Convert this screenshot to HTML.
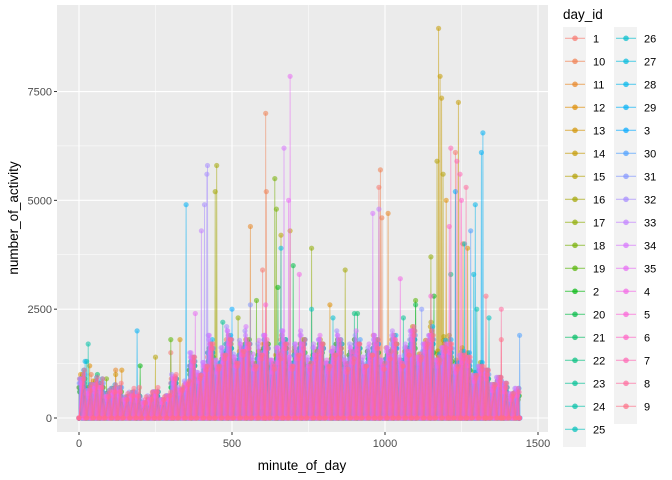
<!DOCTYPE html>
<html><head><meta charset="utf-8">
<style>
body{margin:0;background:#fff;font-family:"Liberation Sans",Arial,sans-serif;}
svg{display:block}
</style></head>
<body>
<svg id="chart" width="672" height="480" viewBox="0 0 672 480" xmlns="http://www.w3.org/2000/svg">
<rect x="57" y="5" width="491" height="427" fill="#EBEBEB"/>
<g id="grid"></g>
<g id="marks"></g>
<g id="axes"></g>
<text x="302" y="470" font-size="13.5" text-anchor="middle" fill="#000">minute_of_day</text>
<text transform="translate(18,218) rotate(-90)" font-size="13.5" text-anchor="middle" fill="#000">number_of_activity</text>
<g id="legend">
<text x="563" y="19" font-size="13.5" fill="#000">day_id</text>
</g>
</svg>
<script>
const days = ["1","10","11","12","13","14","15","16","17","18","19","2","20","21","22","23","24","25","26","27","28","29","3","30","31","32","33","34","35","4","5","6","7","8","9"];
// hourly activity peak levels per day (hour 0..23)
const hourly = [
[700,500,400,300,500,800,1100,1400,1500,1600,1700,1800,1600,1500,1700,1800,1600,1500,1400,1300,1200,1000,800,600],
[900,600,500,400,600,900,1200,1500,1800,1700,1600,1900,1700,1600,1500,1700,1900,1800,1600,1400,1300,1100,900,700],
[600,700,500,300,400,800,1000,1300,1500,1400,1600,1700,1500,1400,1600,1700,1500,1400,1300,1500,1400,1100,800,500],
[1000,800,600,400,500,900,1200,1600,1700,1800,1700,1600,1500,1700,1800,1600,1700,1600,1800,1700,1500,1200,1000,700],
[800,600,500,400,500,700,1100,1400,1600,1500,1700,1600,1400,1500,1600,1500,1400,1600,1700,1900,1600,1300,900,600],
[900,700,600,500,600,800,1300,1700,1900,1800,1700,1500,1600,1800,1700,1600,1500,1700,2000,2100,1800,1400,1000,700],
[700,600,500,400,500,900,1400,1700,1800,1600,1500,1700,1800,1600,1500,1700,1800,1900,2100,2200,1900,1500,1100,700],
[1000,800,700,500,500,800,1200,1500,1600,1700,1600,1500,1400,1600,1700,1500,1600,1700,1900,2000,1700,1300,900,600],
[500,400,300,300,400,700,1100,1400,1700,1600,1500,1600,1700,1500,1400,1600,1500,1600,1800,1900,1600,1200,800,500],
[700,600,500,400,500,800,1200,1600,1800,1700,1600,1800,1700,1500,1600,1700,1600,1500,1700,1800,1500,1200,900,600],
[800,700,500,400,500,800,1300,1500,1700,1800,1700,1600,1800,1700,1600,1500,1700,1600,1800,1700,1400,1100,800,600],
[900,700,600,500,600,900,1200,1400,1600,1500,1700,1600,1500,1600,1700,1600,1500,1700,1600,1500,1300,1100,900,700],
[700,500,400,400,500,700,1100,1500,1700,1600,1500,1700,1600,1500,1700,1800,1600,1500,1600,1700,1500,1200,900,600],
[600,500,400,300,400,700,1000,1300,1500,1600,1500,1400,1600,1500,1400,1600,1500,1400,1600,1700,1400,1100,800,500],
[800,700,600,500,500,800,1200,1500,1600,1700,1600,1500,1700,1600,1500,1700,1600,1500,1700,1600,1400,1200,900,600],
[900,800,600,500,600,800,1300,1600,1700,1600,1800,1700,1600,1700,1800,1600,1700,1800,1700,1600,1500,1300,1000,700],
[700,600,500,400,500,700,1100,1400,1600,1500,1600,1700,1500,1600,1500,1700,1600,1500,1700,1800,1500,1200,900,600],
[800,700,500,400,500,800,1200,1500,1700,1600,1500,1600,1700,1500,1600,1500,1700,1600,1500,1700,1500,1200,900,600],
[700,600,500,400,500,800,1200,1400,1600,1700,1600,1500,1600,1700,1600,1500,1600,1700,1600,1500,1400,1100,800,600],
[900,700,600,500,500,800,1300,1500,1700,1600,1700,1600,1500,1600,1700,1600,1500,1600,1700,1600,1500,1200,900,700],
[800,600,500,400,500,700,1100,1400,1500,1600,1500,1600,1700,1500,1600,1700,1500,1600,1800,1700,1400,1100,800,600],
[1100,900,700,500,600,900,1400,1800,1900,1700,1600,1800,1700,1600,1800,1700,1800,1900,2000,2100,1800,1500,1100,800],
[700,600,500,400,500,800,1200,1500,1600,1700,1600,1500,1700,1600,1500,1600,1700,1600,1800,1700,1500,1200,900,600],
[1000,800,700,500,600,900,1300,1600,1800,1700,1600,1700,1800,1600,1700,1800,1700,1600,1900,1800,1600,1300,1000,700],
[800,700,600,400,500,800,1200,1500,1700,1600,1500,1700,1600,1500,1600,1700,1600,1700,1800,1700,1500,1200,900,600],
[900,800,700,600,600,1000,1500,1900,2100,2000,1900,2000,1900,1800,2000,1900,1800,1900,2000,1900,1700,1400,1100,800],
[800,700,600,500,600,900,1400,1800,2000,1900,1800,1900,2000,1800,1900,1800,1900,2000,1900,1800,1600,1300,1000,700],
[900,700,600,500,600,950,1500,1900,2000,2100,1900,2000,1900,1800,1900,2000,1900,1800,2000,1900,1700,1400,1100,800],
[800,700,600,500,500,900,1400,1700,1900,1800,1900,1800,1700,1900,1800,1700,1800,1900,2000,1900,1600,1300,1000,700],
[700,600,500,400,500,800,1200,1500,1700,1600,1500,1600,1700,1600,1500,1600,1700,1600,1800,1700,1500,1200,900,600],
[800,700,600,500,500,850,1300,1600,1700,1600,1700,1600,1500,1700,1600,1500,1600,1700,1900,1800,1500,1200,900,600],
[900,700,600,500,600,900,1300,1600,1800,1700,1600,1700,1600,1500,1700,1600,1700,1800,2000,1900,1600,1300,1000,700],
[1000,800,700,600,600,950,1400,1700,1800,1700,1800,1700,1600,1700,1800,1700,1600,1800,2100,2000,1700,1400,1100,800],
[900,700,600,500,600,900,1300,1600,1700,1600,1700,1600,1700,1600,1500,1700,1600,1700,1900,1800,1600,1300,1000,700],
[1100,900,800,700,700,1000,1400,1700,1800,1700,1600,1700,1800,1700,1600,1700,1800,1700,2000,1900,1700,1400,1100,800]
];
// notable spikes per day: [minute, value]
const spikes = {
"1":[[980,5300],[1230,6100],[600,3400],[300,1500]],
"10":[[610,7000],[612,5200],[985,5700],[990,4600],[40,1000]],
"11":[[1010,4700],[560,4400],[1255,4000],[120,1100]],
"12":[[35,1200],[140,1100],[1200,5000],[820,2600]],
"13":[[120,1000],[1270,3900],[330,1800]],
"14":[[1175,8950],[1180,7850],[1185,7350],[1240,7250],[690,4300]],
"15":[[1170,5900],[1190,5600],[660,4200],[250,1400]],
"16":[[450,5800],[445,5200],[870,3400]],
"17":[[1150,3700],[760,3900],[520,2300]],
"18":[[640,5500],[645,4800],[90,900]],
"19":[[580,2700],[300,1800],[1100,2700]],
"2":[[1160,2800],[650,3000],[200,1200]],
"20":[[700,3500],[1100,2600]],
"21":[[910,2400],[60,1000]],
"22":[[1215,3300],[900,2400]],
"23":[[470,2200],[1060,2300]],
"24":[[30,1700],[1300,2500],[25,1300]],
"25":[[760,2500],[1340,2300]],
"26":[[1260,4000],[830,2300]],
"27":[[660,3900],[1290,3300]],
"28":[[1295,4900],[20,1300]],
"29":[[1320,6550],[1315,6100],[350,4900],[190,2000]],
"3":[[1230,5200],[500,2500]],
"30":[[1280,4300],[1440,1900]],
"31":[[560,2600],[1120,2500]],
"32":[[420,5800],[418,5600],[410,4900]],
"33":[[400,4300],[980,4800]],
"34":[[670,6200],[960,4700]],
"35":[[690,7850],[685,5000],[380,2400]],
"4":[[720,3300],[1050,3200]],
"5":[[610,2600],[1150,2800]],
"6":[[1250,5000],[1210,4400]],
"7":[[1215,6200],[1235,5900],[1245,5600]],
"8":[[1265,5300],[1380,2500]],
"9":[[1330,2800],[1380,1800]]
};
const xTicks = [0,500,1000,1500];
const yTicks = [0,2500,5000,7500];
const xMinor = [250,750,1250];
const yMinor = [1250,3750,6250];

const NS="http://www.w3.org/2000/svg";
const X = m => 79 + m*0.306;
const Y = v => 418 - v*0.04353;
function hcl(h){
  const L=65,C=100,hr=h*Math.PI/180,u=C*Math.cos(hr),v=C*Math.sin(hr);
  const Xn=95.047,Yn=100,Zn=108.883,d=Xn+15*Yn+3*Zn,un=4*Xn/d,vn=9*Yn/d;
  const Yv=Yn*Math.pow((L+16)/116,3),up=u/(13*L)+un,vp=v/(13*L)+vn;
  const Xv=Yv*9*up/(4*vp),Zv=Yv*(12-3*up-20*vp)/(4*vp);
  const x=Xv/100,y=Yv/100,z=Zv/100;
  let r=3.2404542*x-1.5371385*y-0.4985314*z,g=-0.9692660*x+1.8760108*y+0.0415560*z,b=0.0556434*x-0.2040259*y+1.0572252*z;
  const gm=c=>{c=c<=0.0031308?12.92*c:1.055*Math.pow(c,1/2.4)-0.055;return Math.round(Math.max(0,Math.min(1,c))*255);};
  return `rgb(${gm(r)},${gm(g)},${gm(b)})`;
}
const colors = days.map((d,i)=>hcl(15+i*360/35));
function mk(tag,attrs,parent){const e=document.createElementNS(NS,tag);for(const k in attrs)e.setAttribute(k,attrs[k]);parent.appendChild(e);return e;}

const grid=document.getElementById('grid');
xMinor.forEach(t=>{const l=mk('line',{x1:X(t),x2:X(t),y1:5,y2:432,stroke:'#fff','stroke-width':0.5},grid);

});
yMinor.forEach(t=>{const l=mk('line',{x1:57,x2:548,y1:Y(t),y2:Y(t),stroke:'#fff','stroke-width':0.5},grid);

});
xTicks.forEach(t=>{const l=mk('line',{x1:X(t),x2:X(t),y1:5,y2:432,stroke:'#fff','stroke-width':1.1},grid);

});
yTicks.forEach(t=>{const l=mk('line',{x1:57,x2:548,y1:Y(t),y2:Y(t),stroke:'#fff','stroke-width':1.1},grid);

});

const axes=document.getElementById('axes');
xTicks.forEach(t=>{mk('line',{x1:X(t),x2:X(t),y1:432,y2:435,stroke:'#333'},axes);
const tx=mk('text',{x:X(t),y:447,'font-size':11,'text-anchor':'middle',fill:'#4D4D4D'},axes);tx.textContent=t;

});
yTicks.forEach(t=>{mk('line',{x1:54,x2:57,y1:Y(t),y2:Y(t),stroke:'#333'},axes);
const tx=mk('text',{x:52,y:Y(t)+4,'font-size':11,'text-anchor':'end',fill:'#4D4D4D'},axes);tx.textContent=t;

});

const marks=document.getElementById('marks');
days.forEach((d,i)=>{
  const hv=hourly[i];
  const off=(i*1.7)%20;
  let pts=[[0,0]];
  // each hour: a peak, then quiet minutes (zero activity) between peaks
  hv.forEach((v,h)=>{
    pts.push([h*60+off,v]);
    pts.push([h*60+off+8,0]);
    pts.push([h*60+off+22,v*0.7]);
    pts.push([h*60+off+30,0]);
    pts.push([h*60+off+42,v*0.85]);
    pts.push([h*60+off+50,0]);
  });
  pts=pts.filter(p=>p[0]<=1439);
  pts.push([1439,0]);
  (spikes[d]||[]).forEach(s=>{pts.push([s[0]-1.5,0]);pts.push([s[0],s[1]]);pts.push([s[0]+1.5,0]);});
  pts.sort((a,b)=>a[0]-b[0]);
  const g=mk('g',{},marks);
  
  
  const area='M'+X(pts[0][0])+','+Y(0)+' '+pts.map(p=>'L'+X(p[0]).toFixed(1)+','+Y(p[1]).toFixed(1)).join(' ')+' L'+X(1439)+','+Y(0)+'Z';
  const a=mk('path',{d:area,fill:colors[i],'fill-opacity':0.12,stroke:'none'},g);
  
  
  const ln=mk('polyline',{points:pts.map(p=>X(p[0]).toFixed(1)+','+Y(p[1]).toFixed(1)).join(' '),fill:'none',stroke:colors[i],'stroke-opacity':0.55,'stroke-width':0.9},g);
  
  
  pts.forEach(p=>{
    const c=mk('circle',{cx:X(p[0]).toFixed(1),cy:Y(p[1]).toFixed(1),r:2.6,fill:colors[i],'fill-opacity':0.55},g);
    
    });
});

const legend=document.getElementById('legend');
mk('rect',{x:563,y:27,width:23,height:420,fill:'#F2F2F2'},legend);
mk('rect',{x:614,y:27,width:23,height:397,fill:'#F2F2F2'},legend);
days.forEach((d,i)=>{
  const col=i<18?0:1,row=i<18?i:i-18;
  const cx=col?626:575,cy=38.3+row*23,lx=col?644:593;
  const g=mk('g',{},legend);
  
  
  mk('line',{x1:cx-10,x2:cx+10,y1:cy,y2:cy,stroke:colors[i],'stroke-opacity':0.6,'stroke-width':1.2},g);
  mk('circle',{cx:cx,cy:cy,r:2.8,fill:colors[i],'fill-opacity':0.7},g);
  const t=mk('text',{x:lx,y:cy+4,'font-size':11,fill:'#000'},g);t.textContent=d;
});
</script>
</body></html>
